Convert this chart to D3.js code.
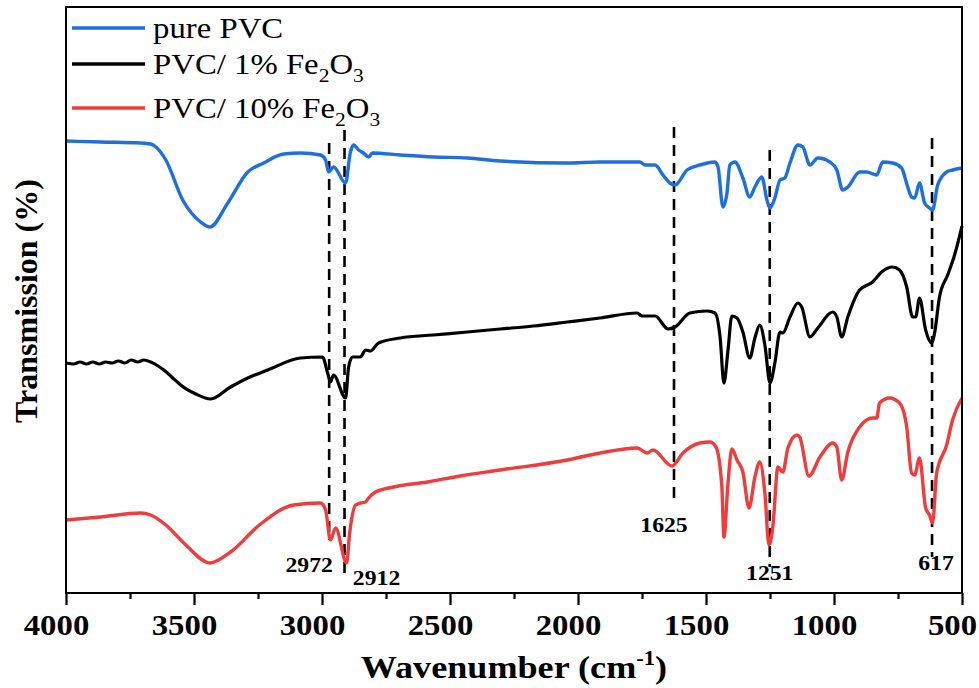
<!DOCTYPE html>
<html>
<head>
<meta charset="utf-8">
<script src="https://cdn.jsdelivr.net/npm/d3@7"></script>
<style>
  body { margin: 0; background: #fff; }
  text { font-family: "Liberation Serif", "Times New Roman", serif; }
</style>
</head>
<body>
<svg id="chart" width="979" height="688"></svg>
<script>
// spectra, [wavenumber cm-1, transmission a.u.] (offset traces)
var purePVC = [
  [4000,452],[3864,451],[3708,450],[3669,449],[3649,446],[3610,433],[3544,393],[3474,371],
  [3438,366],[3368,390],[3290,421],[3228,430],[3150,439],[3084,440],[3006,438],[2986,433],
  [2974,421],[2955,426],[2908,410],[2889,441],[2877,448],[2857,443],[2838,440],[2818,436],
  [2803,440],[2694,438],[2565,436],[2432,435],[2304,432],[2042,430],[1914,431],[1785,431],
  [1758,431],[1738,428],[1699,428],[1668,418],[1641,410],[1621,408],[1574,423],[1524,428],
  [1465,431],[1453,426],[1434,386],[1418,400],[1407,428],[1387,431],[1356,415],[1329,396],
  [1309,406],[1282,416],[1262,393],[1250,385],[1231,395],[1211,413],[1192,415],[1172,430],
  [1141,448],[1122,446],[1094,428],[1063,435],[1016,431],[989,423],[966,403],[946,406],
  [900,421],[872,421],[833,418],[810,431],[771,430],[736,425],[712,406],[697,396],[685,395],
  [666,410],[646,390],[627,385],[615,383],[595,408],[560,421],[537,423],[500,425]
];
var pvcFe1 = [
  [4000,230],[3970,229],[3945,231],[3920,229],[3895,231],[3870,229],[3845,231],[3820,230],
  [3795,232],[3770,230],[3745,233],[3720,231],[3695,233],[3669,231],[3640,227],[3618,223],
  [3595,218],[3583,215],[3565,211],[3552,208],[3493,199],[3435,194],[3357,206],[3290,215],
  [3212,223],[3084,235],[2998,236],[2978,220],[2967,211],[2955,218],[2908,195],[2896,226],
  [2881,236],[2850,236],[2830,243],[2811,242],[2779,250],[2694,255],[2565,258],[2432,261],
  [2304,264],[2175,267],[2042,271],[1914,275],[1769,280],[1750,277],[1699,277],[1648,264],
  [1621,266],[1563,280],[1496,282],[1465,280],[1445,256],[1430,210],[1414,243],[1399,277],
  [1379,275],[1356,261],[1329,235],[1309,255],[1290,268],[1270,248],[1250,210],[1231,230],
  [1211,261],[1200,260],[1172,276],[1141,290],[1126,286],[1094,256],[1063,265],[1005,281],
  [989,276],[970,256],[946,276],[900,303],[849,311],[814,321],[771,326],[744,323],[716,306],
  [693,276],[681,276],[666,295],[642,263],[619,250],[607,260],[588,296],[556,318],[529,338],
  [500,367]
];
var pvcFe10 = [
  [4000,73],[3864,76],[3708,80],[3669,78],[3610,68],[3532,48],[3438,30],[3357,41],[3240,69],
  [3111,88],[3006,90],[2986,83],[2967,53],[2947,65],[2904,30],[2892,60],[2869,88],[2850,90],
  [2830,91],[2818,95],[2791,101],[2721,106],[2588,111],[2460,117],[2304,123],[2042,133],
  [1914,140],[1769,145],[1730,140],[1707,143],[1633,127],[1590,140],[1524,150],[1485,151],
  [1461,146],[1438,106],[1430,56],[1414,110],[1399,144],[1379,133],[1356,121],[1332,85],
  [1309,116],[1290,131],[1270,100],[1254,48],[1239,66],[1219,126],[1200,121],[1180,145],
  [1145,158],[1134,156],[1098,117],[1055,136],[1005,150],[989,146],[970,113],[946,141],
  [900,166],[849,175],[833,175],[822,190],[783,195],[744,190],[716,166],[697,120],[685,118],
  [666,135],[642,85],[627,78],[615,70],[599,120],[560,148],[537,173],[500,195]
];
var seriesNames = ["pure PVC", "PVC/ 1% Fe2O3", "PVC/ 10% Fe2O3"];
var peaks = [2972, 2912, 1625, 1251, 617];
var peakTop = [450, 463, 466, 443, 455];
var peakBottom = [53, 18, 93, 26, 36];
var majorTicks = [4000, 3500, 3000, 2500, 2000, 1500, 1000, 500];
var minorTicks = [3750, 3250, 2750, 2250, 1750, 1250, 750];

var W = 979, H = 688;
var margin = {top: 7, right: 17, bottom: 95, left: 66};
var iw = W - margin.left - margin.right, ih = H - margin.top - margin.bottom;
var colors = ["#1f6fde", "#000000", "#f03c3c"];
var sx = 1.13; // text in the figure is horizontally stretched

var svg = d3.select("#chart");
var g = svg.append("g").attr("transform", "translate(" + margin.left + "," + margin.top + ")");

var x = d3.scaleLinear().domain([4000, 500]).range([0, iw]);
var y = d3.scaleLinear().domain([0, 586]).range([ih, 0]);

// dashed peak markers
g.selectAll(".peak").data(peaks).enter().append("line")
  .attr("class", "peak")
  .attr("x1", function(d) { return x(d); }).attr("x2", function(d) { return x(d); })
  .attr("y1", function(d, i) { return y(peakTop[i]); })
  .attr("y2", function(d, i) { return y(peakBottom[i]); })
  .attr("stroke", "#000").attr("stroke-width", 2.6).attr("stroke-dasharray", "11,7");

var line = d3.line()
  .x(function(d) { return x(d[0]); })
  .y(function(d) { return y(d[1]); })
  .curve(d3.curveMonotoneX);

[purePVC, pvcFe1, pvcFe10].forEach(function(s, i) {
  g.append("path").datum(s)
    .attr("d", line)
    .attr("fill", "none")
    .attr("stroke", colors[i])
    .attr("stroke-width", i == 1 ? 3.2 : 3.4)
    .attr("stroke-linejoin", "round");
});

// peak labels
var labelOff = [[-20, 32], [32, 10], [-10, 32], [0, 13], [4, 13]];
g.selectAll(".plabel").data(peaks).enter().append("text")
  .attr("class", "plabel")
  .attr("transform", function(d, i) {
    return "translate(" + (x(d) + labelOff[i][0]) + "," + (y(peakBottom[i]) + labelOff[i][1]) + ") scale(" + sx + ",1)";
  })
  .attr("text-anchor", "middle")
  .attr("font-size", 21).attr("font-weight", "bold")
  .text(function(d) { return d; });

// frame
g.append("rect").attr("width", iw).attr("height", ih)
  .attr("fill", "none").attr("stroke", "#000").attr("stroke-width", 2);

// x axis
var xAxis = g.append("g").attr("transform", "translate(0," + ih + ")")
  .call(d3.axisBottom(x).tickValues(majorTicks).tickSize(12).tickFormat(d3.format("d")));
xAxis.select(".domain").remove();
xAxis.selectAll("line").attr("stroke-width", 2.2);
xAxis.selectAll("text")
  .attr("font-family", "Liberation Serif").attr("font-weight", "bold").attr("font-size", 29)
  .attr("y", 0).attr("dy", 0)
  .attr("transform", "translate(-10,42) scale(" + sx + ",1)");

var xMinor = g.append("g").attr("transform", "translate(0," + ih + ")")
  .call(d3.axisBottom(x).tickValues(minorTicks).tickSize(6).tickFormat(""));
xMinor.select(".domain").remove();
xMinor.selectAll("line").attr("stroke-width", 2.2);

// axis titles
var xt = svg.append("text")
  .attr("transform", "translate(" + (margin.left + iw / 2) + ",678) scale(" + sx + ",1)")
  .attr("text-anchor", "middle").attr("font-size", 32).attr("font-weight", "bold");
xt.append("tspan").text("Wavenumber (cm");
xt.append("tspan").attr("font-size", 20).attr("dy", -13).text("-1");
xt.append("tspan").attr("dy", 13).text(")");

svg.append("text")
  .attr("transform", "translate(37,301) rotate(-90)")
  .attr("text-anchor", "middle").attr("font-size", 32).attr("font-weight", "bold")
  .text("Transmission (%)");

// legend
var legY = [28, 64, 108];
var leg = svg.append("g");
seriesNames.forEach(function(name, i) {
  leg.append("line")
    .attr("x1", 72).attr("x2", 145).attr("y1", legY[i]).attr("y2", legY[i])
    .attr("stroke", colors[i]).attr("stroke-width", 3.4);
  var t = leg.append("text")
    .attr("transform", "translate(153," + (legY[i] + 10) + ") scale(" + sx + ",1)")
    .attr("font-size", 29);
  var m = name.match(/^(.*Fe)2O3$/);
  if (m) {
    t.append("tspan").text(m[1]);
    t.append("tspan").attr("font-size", 19).attr("dy", 8).text("2");
    t.append("tspan").attr("dy", -8).text("O");
    t.append("tspan").attr("font-size", 19).attr("dy", 8).text("3");
  } else {
    t.text(name);
  }
});
</script>
</body>
</html>
